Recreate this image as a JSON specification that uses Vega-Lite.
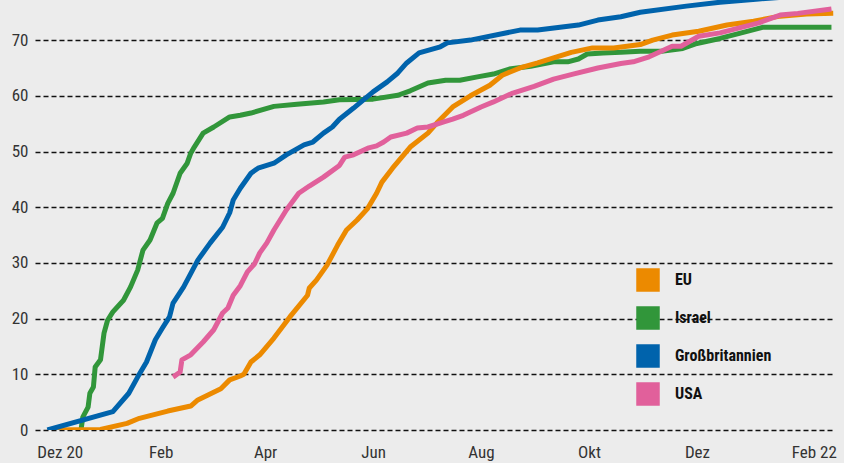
{
  "$schema": "https://vega.github.io/schema/vega-lite/v6.json",
  "width": 800,
  "height": 430,
  "autosize": {"type": "none"},
  "padding": {"left": 35, "top": 0, "right": 9, "bottom": 33},
  "background": "#ececec",
  "config": {"view": {"stroke": null}, "font": "Roboto Condensed, Liberation Sans Narrow, Roboto"},
  "data": {"values": [
    {"land": "Israel", "date": "2020-12-18", "wert": 0},
    {"land": "Israel", "date": "2020-12-19", "wert": 2.3},
    {"land": "Israel", "date": "2020-12-22", "wert": 4.1},
    {"land": "Israel", "date": "2020-12-23", "wert": 6.6},
    {"land": "Israel", "date": "2020-12-25", "wert": 7.7},
    {"land": "Israel", "date": "2020-12-26", "wert": 11.3},
    {"land": "Israel", "date": "2020-12-29", "wert": 12.6},
    {"land": "Israel", "date": "2020-12-31", "wert": 17.4},
    {"land": "Israel", "date": "2021-01-02", "wert": 19.7},
    {"land": "Israel", "date": "2021-01-05", "wert": 21.2},
    {"land": "Israel", "date": "2021-01-11", "wert": 23.3},
    {"land": "Israel", "date": "2021-01-15", "wert": 25.7},
    {"land": "Israel", "date": "2021-01-19", "wert": 28.7},
    {"land": "Israel", "date": "2021-01-22", "wert": 32.3},
    {"land": "Israel", "date": "2021-01-26", "wert": 34.1},
    {"land": "Israel", "date": "2021-01-30", "wert": 37.2},
    {"land": "Israel", "date": "2021-02-02", "wert": 38.0},
    {"land": "Israel", "date": "2021-02-05", "wert": 40.7},
    {"land": "Israel", "date": "2021-02-08", "wert": 42.5},
    {"land": "Israel", "date": "2021-02-12", "wert": 46.1},
    {"land": "Israel", "date": "2021-02-16", "wert": 47.9},
    {"land": "Israel", "date": "2021-02-18", "wert": 49.7},
    {"land": "Israel", "date": "2021-02-20", "wert": 50.8},
    {"land": "Israel", "date": "2021-02-25", "wert": 53.3},
    {"land": "Israel", "date": "2021-03-03", "wert": 54.4},
    {"land": "Israel", "date": "2021-03-12", "wert": 56.2},
    {"land": "Israel", "date": "2021-03-18", "wert": 56.5},
    {"land": "Israel", "date": "2021-03-24", "wert": 56.9},
    {"land": "Israel", "date": "2021-04-06", "wert": 58.1},
    {"land": "Israel", "date": "2021-04-19", "wert": 58.5},
    {"land": "Israel", "date": "2021-05-04", "wert": 58.9},
    {"land": "Israel", "date": "2021-05-13", "wert": 59.3},
    {"land": "Israel", "date": "2021-06-01", "wert": 59.4},
    {"land": "Israel", "date": "2021-06-15", "wert": 60.1},
    {"land": "Israel", "date": "2021-06-22", "wert": 60.9},
    {"land": "Israel", "date": "2021-07-02", "wert": 62.3},
    {"land": "Israel", "date": "2021-07-12", "wert": 62.8},
    {"land": "Israel", "date": "2021-07-20", "wert": 62.8},
    {"land": "Israel", "date": "2021-07-30", "wert": 63.4},
    {"land": "Israel", "date": "2021-08-08", "wert": 63.9},
    {"land": "Israel", "date": "2021-08-17", "wert": 64.8},
    {"land": "Israel", "date": "2021-08-29", "wert": 65.3},
    {"land": "Israel", "date": "2021-09-11", "wert": 66.1},
    {"land": "Israel", "date": "2021-09-19", "wert": 66.1},
    {"land": "Israel", "date": "2021-09-25", "wert": 66.6},
    {"land": "Israel", "date": "2021-09-30", "wert": 67.5},
    {"land": "Israel", "date": "2021-10-09", "wert": 67.7},
    {"land": "Israel", "date": "2021-10-19", "wert": 67.8},
    {"land": "Israel", "date": "2021-10-30", "wert": 68.0},
    {"land": "Israel", "date": "2021-11-11", "wert": 68.0},
    {"land": "Israel", "date": "2021-11-23", "wert": 68.5},
    {"land": "Israel", "date": "2021-12-01", "wert": 69.4},
    {"land": "Israel", "date": "2021-12-14", "wert": 70.3},
    {"land": "Israel", "date": "2021-12-25", "wert": 71.2},
    {"land": "Israel", "date": "2022-01-07", "wert": 72.3},
    {"land": "Israel", "date": "2022-02-15", "wert": 72.3},

    {"land": "EU", "date": "2020-12-01", "wert": 0},
    {"land": "EU", "date": "2020-12-29", "wert": 0.1},
    {"land": "EU", "date": "2021-01-13", "wert": 1.2},
    {"land": "EU", "date": "2021-01-20", "wert": 2.1},
    {"land": "EU", "date": "2021-02-05", "wert": 3.4},
    {"land": "EU", "date": "2021-02-18", "wert": 4.3},
    {"land": "EU", "date": "2021-02-22", "wert": 5.4},
    {"land": "EU", "date": "2021-03-07", "wert": 7.4},
    {"land": "EU", "date": "2021-03-12", "wert": 9.0},
    {"land": "EU", "date": "2021-03-18", "wert": 9.7},
    {"land": "EU", "date": "2021-03-20", "wert": 10.0},
    {"land": "EU", "date": "2021-03-24", "wert": 12.2},
    {"land": "EU", "date": "2021-03-29", "wert": 13.5},
    {"land": "EU", "date": "2021-04-06", "wert": 16.5},
    {"land": "EU", "date": "2021-04-15", "wert": 20.3},
    {"land": "EU", "date": "2021-04-25", "wert": 24.2},
    {"land": "EU", "date": "2021-04-26", "wert": 25.5},
    {"land": "EU", "date": "2021-04-30", "wert": 26.9},
    {"land": "EU", "date": "2021-05-06", "wert": 29.6},
    {"land": "EU", "date": "2021-05-12", "wert": 33.2},
    {"land": "EU", "date": "2021-05-17", "wert": 35.9},
    {"land": "EU", "date": "2021-05-23", "wert": 37.7},
    {"land": "EU", "date": "2021-05-29", "wert": 39.8},
    {"land": "EU", "date": "2021-06-03", "wert": 42.5},
    {"land": "EU", "date": "2021-06-06", "wert": 44.5},
    {"land": "EU", "date": "2021-06-12", "wert": 47.0},
    {"land": "EU", "date": "2021-06-22", "wert": 50.8},
    {"land": "EU", "date": "2021-07-02", "wert": 53.3},
    {"land": "EU", "date": "2021-07-07", "wert": 55.1},
    {"land": "EU", "date": "2021-07-16", "wert": 58.0},
    {"land": "EU", "date": "2021-07-26", "wert": 60.0},
    {"land": "EU", "date": "2021-08-06", "wert": 61.9},
    {"land": "EU", "date": "2021-08-13", "wert": 63.7},
    {"land": "EU", "date": "2021-08-23", "wert": 65.0},
    {"land": "EU", "date": "2021-09-02", "wert": 65.9},
    {"land": "EU", "date": "2021-09-11", "wert": 66.8},
    {"land": "EU", "date": "2021-09-21", "wert": 67.8},
    {"land": "EU", "date": "2021-10-03", "wert": 68.6},
    {"land": "EU", "date": "2021-10-15", "wert": 68.6},
    {"land": "EU", "date": "2021-10-30", "wert": 69.2},
    {"land": "EU", "date": "2021-11-06", "wert": 70.0},
    {"land": "EU", "date": "2021-11-17", "wert": 70.9},
    {"land": "EU", "date": "2021-12-02", "wert": 71.6},
    {"land": "EU", "date": "2021-12-18", "wert": 72.7},
    {"land": "EU", "date": "2022-01-02", "wert": 73.4},
    {"land": "EU", "date": "2022-01-17", "wert": 74.3},
    {"land": "EU", "date": "2022-02-01", "wert": 74.7},
    {"land": "EU", "date": "2022-02-16", "wert": 74.8},

    {"land": "Großbritannien", "date": "2020-11-29", "wert": 0},
    {"land": "Großbritannien", "date": "2021-01-05", "wert": 3.3},
    {"land": "Großbritannien", "date": "2021-01-14", "wert": 6.6},
    {"land": "Großbritannien", "date": "2021-01-19", "wert": 9.5},
    {"land": "Großbritannien", "date": "2021-01-24", "wert": 12.2},
    {"land": "Großbritannien", "date": "2021-01-29", "wert": 16.2},
    {"land": "Großbritannien", "date": "2021-02-02", "wert": 18.3},
    {"land": "Großbritannien", "date": "2021-02-06", "wert": 20.3},
    {"land": "Großbritannien", "date": "2021-02-08", "wert": 22.8},
    {"land": "Großbritannien", "date": "2021-02-14", "wert": 25.7},
    {"land": "Großbritannien", "date": "2021-02-22", "wert": 30.5},
    {"land": "Großbritannien", "date": "2021-03-01", "wert": 33.6},
    {"land": "Großbritannien", "date": "2021-03-08", "wert": 36.4},
    {"land": "Großbritannien", "date": "2021-03-12", "wert": 39.0},
    {"land": "Großbritannien", "date": "2021-03-14", "wert": 41.3},
    {"land": "Großbritannien", "date": "2021-03-18", "wert": 43.4},
    {"land": "Großbritannien", "date": "2021-03-24", "wert": 46.1},
    {"land": "Großbritannien", "date": "2021-03-28", "wert": 47.0},
    {"land": "Großbritannien", "date": "2021-04-06", "wert": 47.9},
    {"land": "Großbritannien", "date": "2021-04-13", "wert": 49.4},
    {"land": "Großbritannien", "date": "2021-04-23", "wert": 51.2},
    {"land": "Großbritannien", "date": "2021-04-28", "wert": 51.7},
    {"land": "Großbritannien", "date": "2021-05-04", "wert": 53.3},
    {"land": "Großbritannien", "date": "2021-05-09", "wert": 54.4},
    {"land": "Großbritannien", "date": "2021-05-13", "wert": 55.8},
    {"land": "Großbritannien", "date": "2021-05-21", "wert": 57.8},
    {"land": "Großbritannien", "date": "2021-06-01", "wert": 60.7},
    {"land": "Großbritannien", "date": "2021-06-09", "wert": 62.5},
    {"land": "Großbritannien", "date": "2021-06-15", "wert": 64.1},
    {"land": "Großbritannien", "date": "2021-06-20", "wert": 65.9},
    {"land": "Großbritannien", "date": "2021-06-27", "wert": 67.7},
    {"land": "Großbritannien", "date": "2021-07-09", "wert": 68.8},
    {"land": "Großbritannien", "date": "2021-07-13", "wert": 69.5},
    {"land": "Großbritannien", "date": "2021-07-26", "wert": 70.0},
    {"land": "Großbritannien", "date": "2021-08-23", "wert": 71.8},
    {"land": "Großbritannien", "date": "2021-09-02", "wert": 71.8},
    {"land": "Großbritannien", "date": "2021-09-25", "wert": 72.7},
    {"land": "Großbritannien", "date": "2021-10-06", "wert": 73.6},
    {"land": "Großbritannien", "date": "2021-10-19", "wert": 74.2},
    {"land": "Großbritannien", "date": "2021-10-30", "wert": 75.0},
    {"land": "Großbritannien", "date": "2021-11-25", "wert": 76.1},
    {"land": "Großbritannien", "date": "2021-12-14", "wert": 76.8},
    {"land": "Großbritannien", "date": "2022-01-05", "wert": 77.4},
    {"land": "Großbritannien", "date": "2022-01-28", "wert": 77.9},
    {"land": "Großbritannien", "date": "2022-02-15", "wert": 78.2},

    {"land": "USA", "date": "2021-02-08", "wert": 9.5},
    {"land": "USA", "date": "2021-02-12", "wert": 10.4},
    {"land": "USA", "date": "2021-02-13", "wert": 12.6},
    {"land": "USA", "date": "2021-02-18", "wert": 13.5},
    {"land": "USA", "date": "2021-02-25", "wert": 15.8},
    {"land": "USA", "date": "2021-03-03", "wert": 18.0},
    {"land": "USA", "date": "2021-03-08", "wert": 21.0},
    {"land": "USA", "date": "2021-03-11", "wert": 21.9},
    {"land": "USA", "date": "2021-03-14", "wert": 24.2},
    {"land": "USA", "date": "2021-03-18", "wert": 25.9},
    {"land": "USA", "date": "2021-03-22", "wert": 28.4},
    {"land": "USA", "date": "2021-03-26", "wert": 29.8},
    {"land": "USA", "date": "2021-03-29", "wert": 31.8},
    {"land": "USA", "date": "2021-04-02", "wert": 33.6},
    {"land": "USA", "date": "2021-04-06", "wert": 35.9},
    {"land": "USA", "date": "2021-04-13", "wert": 39.5},
    {"land": "USA", "date": "2021-04-20", "wert": 42.5},
    {"land": "USA", "date": "2021-04-26", "wert": 43.8},
    {"land": "USA", "date": "2021-05-04", "wert": 45.4},
    {"land": "USA", "date": "2021-05-13", "wert": 47.5},
    {"land": "USA", "date": "2021-05-16", "wert": 49.0},
    {"land": "USA", "date": "2021-05-21", "wert": 49.4},
    {"land": "USA", "date": "2021-05-29", "wert": 50.6},
    {"land": "USA", "date": "2021-06-03", "wert": 51.0},
    {"land": "USA", "date": "2021-06-07", "wert": 51.7},
    {"land": "USA", "date": "2021-06-11", "wert": 52.6},
    {"land": "USA", "date": "2021-06-20", "wert": 53.3},
    {"land": "USA", "date": "2021-06-26", "wert": 54.2},
    {"land": "USA", "date": "2021-07-02", "wert": 54.4},
    {"land": "USA", "date": "2021-07-11", "wert": 55.3},
    {"land": "USA", "date": "2021-07-16", "wert": 55.8},
    {"land": "USA", "date": "2021-07-22", "wert": 56.5},
    {"land": "USA", "date": "2021-08-01", "wert": 58.0},
    {"land": "USA", "date": "2021-08-08", "wert": 58.9},
    {"land": "USA", "date": "2021-08-19", "wert": 60.5},
    {"land": "USA", "date": "2021-08-31", "wert": 61.7},
    {"land": "USA", "date": "2021-09-11", "wert": 63.0},
    {"land": "USA", "date": "2021-09-22", "wert": 63.9},
    {"land": "USA", "date": "2021-10-06", "wert": 65.0},
    {"land": "USA", "date": "2021-10-19", "wert": 65.8},
    {"land": "USA", "date": "2021-10-26", "wert": 66.1},
    {"land": "USA", "date": "2021-11-04", "wert": 67.0},
    {"land": "USA", "date": "2021-11-17", "wert": 68.9},
    {"land": "USA", "date": "2021-11-22", "wert": 68.9},
    {"land": "USA", "date": "2021-12-02", "wert": 70.7},
    {"land": "USA", "date": "2021-12-14", "wert": 71.3},
    {"land": "USA", "date": "2021-12-25", "wert": 72.2},
    {"land": "USA", "date": "2022-01-05", "wert": 73.1},
    {"land": "USA", "date": "2022-01-17", "wert": 74.5},
    {"land": "USA", "date": "2022-01-27", "wert": 74.8},
    {"land": "USA", "date": "2022-02-15", "wert": 75.6}
  ]},
  "mark": {"type": "line", "strokeWidth": 5, "clip": true, "strokeJoin": "round"},
  "encoding": {
    "x": {
      "field": "date", "type": "temporal",
      "scale": {"domain": [{"year": 2020, "month": 11, "date": 22, "utc": true}, {"year": 2022, "month": 2, "date": 17, "utc": true}]},
      "axis": {
        "title": null, "grid": false, "domain": false, "ticks": false,
        "labelPadding": 14, "labelFontSize": 17, "labelColor": "#333",
        "labelFlush": false, "labelOverlap": false,
        "values": [
          {"year": 2020, "month": 12, "date": 6, "utc": true},
          {"year": 2021, "month": 2, "date": 1, "utc": true},
          {"year": 2021, "month": 4, "date": 1, "utc": true},
          {"year": 2021, "month": 6, "date": 1, "utc": true},
          {"year": 2021, "month": 8, "date": 1, "utc": true},
          {"year": 2021, "month": 10, "date": 1, "utc": true},
          {"year": 2021, "month": 12, "date": 1, "utc": true},
          {"year": 2022, "month": 2, "date": 5, "utc": true}
        ],
        "labelExpr": "utcmonth(datum.value)==11 ? (utcyear(datum.value)==2020 ? 'Dez 20' : 'Dez') : utcmonth(datum.value)==1 ? (utcyear(datum.value)==2022 ? 'Feb 22' : 'Feb') : utcmonth(datum.value)==3 ? 'Apr' : utcmonth(datum.value)==5 ? 'Jun' : utcmonth(datum.value)==7 ? 'Aug' : 'Okt'"
      }
    },
    "y": {
      "field": "wert", "type": "quantitative",
      "scale": {"domain": [0, 77.2], "nice": false, "zero": true},
      "axis": {
        "title": null, "domain": false, "ticks": false,
        "values": [0, 10, 20, 30, 40, 50, 60, 70],
        "labelPadding": 7, "labelFontSize": 17, "labelColor": "#333",
        "grid": true, "gridDash": [5, 3], "gridColor": "#111", "gridWidth": 1.5
      }
    },
    "color": {
      "field": "land", "type": "nominal",
      "scale": {"domain": ["EU", "Israel", "Großbritannien", "USA"], "range": ["#ec8a00", "#31963a", "#0063ac", "#e1609b"]},
      "legend": {
        "orient": "none", "legendX": 601, "legendY": 268, "title": null,
        "symbolType": "square", "symbolSize": 552, "symbolStrokeWidth": 0,
        "labelFontSize": 16, "labelFontWeight": "bold", "labelColor": "#111",
        "labelOffset": 15, "rowPadding": 14, "padding": 0,
        "encode": {"symbols": {"update": {"fill": {"scale": "color", "field": "value"}, "opacity": {"value": 1}}}}
      }
    },
    "order": {"value": 0}
  }
}
